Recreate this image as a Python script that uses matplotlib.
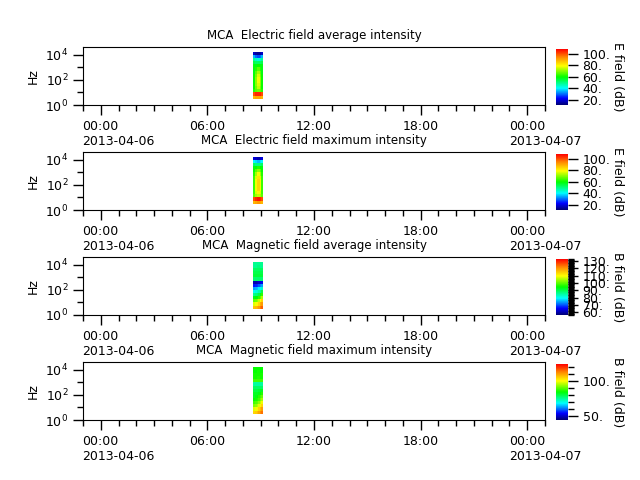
import numpy as np
import matplotlib
matplotlib.use("Agg")
import matplotlib.pyplot as plt
import matplotlib.dates as mdates
from matplotlib.colors import LinearSegmentedColormap
from matplotlib.ticker import FixedLocator, FuncFormatter, MultipleLocator, NullFormatter
import matplotlib.transforms as mtransforms
from datetime import datetime

# ---------------- data ----------------
# Akebono MCA channel frequencies (Hz) used as cell edges
freq_edges = [3.16, 5.62, 10.0, 17.8, 31.6, 56.2, 100.0, 178.0, 316.0, 562.0,
              1000.0, 1780.0, 3160.0, 5620.0, 10000.0, 17800.0]
# time cell edges on 2013-04-06
time_edges = ["08:34", "08:40", "08:46", "08:51", "08:57", "09:02", "09:08"]

# intensities, rows listed from top (highest frequency) to bottom
e_avg = [
    [18, 15, 14, 14, 15, 18],
    [35, 30, 28, 28, 30, 35],
    [48, 45, 43, 43, 45, 48],
    [54, 52, 52, 52, 52, 54],
    [58, 58, 60, 60, 58, 58],
    [58, 62, 66, 66, 62, 58],
    [58, 66, 72, 72, 66, 58],
    [60, 68, 76, 76, 68, 60],
    [60, 70, 78, 78, 70, 60],
    [60, 70, 78, 78, 70, 60],
    [60, 70, 76, 76, 70, 60],
    [60, 68, 74, 74, 68, 60],
    [62, 66, 68, 68, 66, 62],
    [100, 104, 104, 104, 104, 100],
    [88, 90, 90, 90, 90, 88],
]
e_max = [
    [20, 18, 16, 16, 18, 20],
    [40, 38, 36, 36, 38, 40],
    [52, 50, 50, 50, 50, 52],
    [58, 60, 62, 62, 60, 58],
    [60, 66, 70, 70, 66, 60],
    [62, 72, 78, 78, 72, 62],
    [64, 76, 82, 82, 76, 64],
    [64, 78, 84, 84, 78, 64],
    [64, 78, 84, 84, 78, 64],
    [64, 78, 84, 84, 78, 64],
    [64, 78, 84, 84, 78, 64],
    [64, 76, 80, 80, 76, 64],
    [66, 72, 74, 74, 72, 66],
    [100, 104, 106, 106, 104, 100],
    [88, 90, 92, 92, 90, 88],
]
b_avg = [
    [86, 86, 86, 86, 86, 86],
    [86, 86, 87, 87, 86, 86],
    [89, 89, 89, 89, 89, 89],
    [90, 90, 90, 90, 90, 90],
    [91, 91, 91, 91, 91, 91],
    [88, 88, 88, 88, 88, 88],
    [60, 60, 61, 62, 63, 64],
    [66, 67, 68, 70, 72, 74],
    [74, 75, 76, 78, 80, 82],
    [80, 81, 82, 84, 86, 90],
    [86, 87, 88, 90, 93, 97],
    [93, 94, 95, 97, 100, 105],
    [100, 101, 103, 106, 110, 114],
    [108, 109, 111, 114, 118, 120],
    [116, 117, 118, 120, 123, 125],
]
b_max = [
    [84, 84, 84, 84, 84, 84],
    [84, 84, 85, 85, 84, 84],
    [85, 85, 85, 85, 85, 85],
    [85, 85, 86, 86, 85, 85],
    [88, 88, 88, 88, 88, 88],
    [74, 74, 74, 74, 74, 74],
    [78, 78, 78, 78, 78, 78],
    [80, 80, 80, 81, 82, 82],
    [82, 82, 82, 83, 84, 86],
    [82, 83, 84, 86, 88, 90],
    [84, 85, 86, 88, 91, 94],
    [88, 89, 90, 93, 96, 99],
    [92, 93, 95, 98, 101, 104],
    [98, 99, 101, 104, 107, 110],
    [104, 105, 107, 109, 112, 114],
]

titles = ["MCA  Electric field average intensity",
          "MCA  Electric field maximum intensity",
          "MCA  Magnetic field average intensity",
          "MCA  Magnetic field maximum intensity"]
cbar_labels = ["E field (dB)", "E field (dB)", "B field (dB)", "B field (dB)"]
vlims = [(11, 108), (11, 108), (56, 133), (44, 124)]
cbar_major = [[20, 40, 60, 80, 100], [20, 40, 60, 80, 100],
              [60, 70, 80, 90, 100, 110, 120, 130], [50, 100]]
cbar_minor_step = [None, None, 1, 10]
panels = [e_avg, e_max, b_avg, b_max]

day = "2013-04-06"
xlim = ("2013-04-05 23:00", "2013-04-07 01:00")

# ---------------- style ----------------
cmap = LinearSegmentedColormap.from_list("rb", [
    (0.00, (0.0, 0.0, 0.45)),
    (0.12, (0.0, 0.0, 1.0)),
    (0.30, (0.0, 1.0, 1.0)),
    (0.50, (0.0, 1.0, 0.0)),
    (0.70, (1.0, 1.0, 0.0)),
    (0.85, (1.0, 0.55, 0.0)),
    (1.00, (1.0, 0.0, 0.0)),
])

plt.rcParams["font.size"] = 9
fig = plt.figure(figsize=(6.4, 4.8), dpi=100)

W, H = 640.0, 480.0
ax_left, ax_right = 83, 545
tops = [47, 152, 257, 362]
hgt = 58

t_edges = [mdates.date2num(datetime.strptime(day + " " + t, "%Y-%m-%d %H:%M"))
           for t in time_edges]
x0 = mdates.date2num(datetime.strptime(xlim[0], "%Y-%m-%d %H:%M"))
x1 = mdates.date2num(datetime.strptime(xlim[1], "%Y-%m-%d %H:%M"))


def fmt_date(v, pos=None):
    d = mdates.num2date(v)
    s = d.strftime("%H:%M")
    if d.hour == 0 and d.minute == 0:
        s = s + "\n" + d.strftime("%Y-%m-%d")
    return s


for i, data in enumerate(panels):
    top = tops[i]
    ax = fig.add_axes([ax_left / W, 1 - (top + hgt) / H,
                       (ax_right - ax_left) / W, hgt / H])
    Z = np.array(data, dtype=float)[::-1]
    mesh = ax.pcolormesh(t_edges, freq_edges, Z, cmap=cmap,
                         vmin=vlims[i][0], vmax=vlims[i][1], shading="flat")
    ax.set_yscale("log")
    ax.set_ylim(1, 4.3e4)
    ax.set_xlim(x0, x1)
    ax.yaxis.set_major_locator(FixedLocator([1, 100, 1e4]))
    ax.yaxis.set_minor_locator(FixedLocator([10, 1000]))
    ax.yaxis.set_minor_formatter(NullFormatter())
    ax.yaxis.set_major_formatter(FuncFormatter(
        lambda v, p: r"$\mathdefault{10^{%d}}$" % int(round(np.log10(v)))))
    ax.xaxis.set_major_locator(mdates.HourLocator(byhour=[0, 6, 12, 18]))
    ax.xaxis.set_minor_locator(mdates.HourLocator())
    ax.xaxis.set_major_formatter(FuncFormatter(fmt_date))
    ax.xaxis.set_minor_formatter(NullFormatter())
    ax.tick_params(which="major", length=7, width=1)
    ax.tick_params(which="minor", length=4, width=1)
    ax.set_ylabel("Hz")
    ax.set_title(titles[i], fontsize=8.5)
    fig.canvas.draw()
    for lab in ax.get_xticklabels():
        if "\n" in lab.get_text():
            lab.set_horizontalalignment("left")
            lab.set_multialignment("left")
            off = mtransforms.ScaledTranslation(-18.5 / 100, 0, fig.dpi_scale_trans)
            lab.set_transform(lab.get_transform() + off)

    cax = fig.add_axes([556 / W, 1 - (top + hgt) / H, 12 / W, (hgt - 2) / H])
    cb = fig.colorbar(mesh, cax=cax)
    cb.outline.set_visible(False)
    cb.set_ticks(cbar_major[i])
    cb.ax.yaxis.set_major_formatter(FuncFormatter(lambda v, p: "%g." % v))
    if cbar_minor_step[i] is not None:
        cb.ax.yaxis.set_minor_locator(MultipleLocator(cbar_minor_step[i]))
    else:
        cb.ax.yaxis.set_minor_locator(FixedLocator([]))
    cb.ax.yaxis.set_minor_formatter(NullFormatter())
    cb.ax.tick_params(which="major", length=7, width=1)
    cb.ax.tick_params(which="minor", length=4, width=1)
    cb.set_label(cbar_labels[i], rotation=270, labelpad=10, fontsize=9)

fig.savefig("out.png", dpi=100)
